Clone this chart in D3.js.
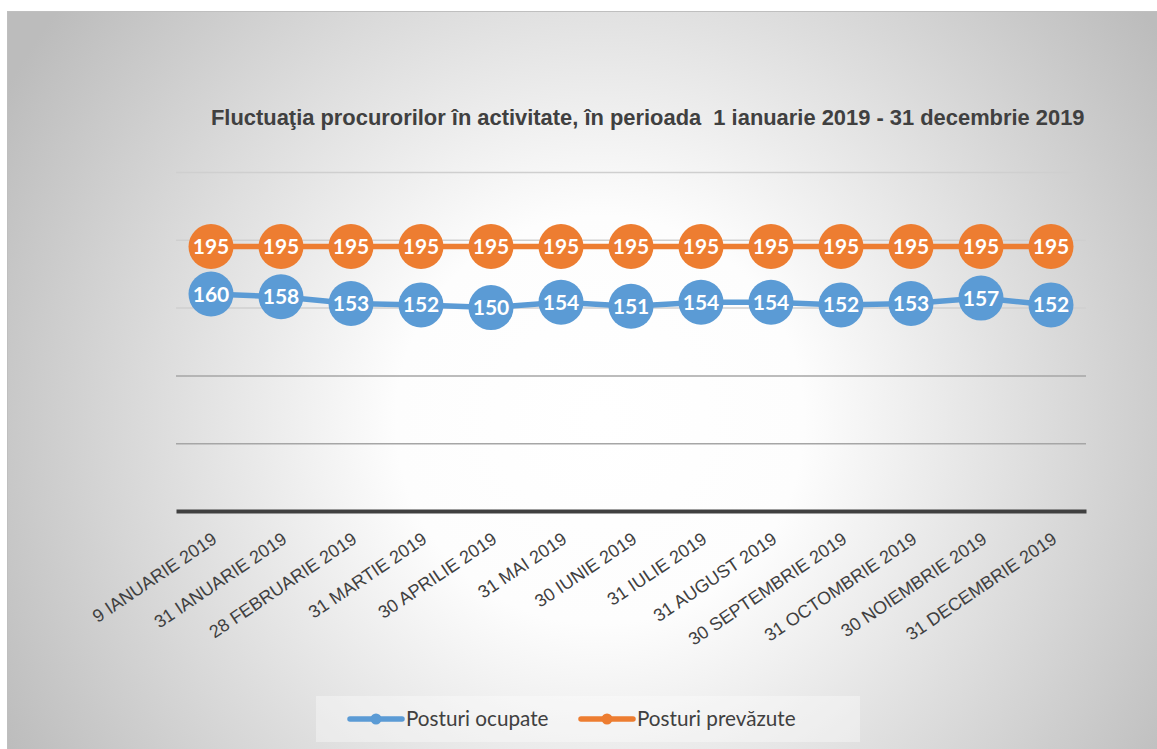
<!DOCTYPE html>
<html><head><meta charset="utf-8">
<script src="https://cdn.jsdelivr.net/npm/d3@7"></script>
<style>
html,body{margin:0;padding:0;background:#fff;}
svg{display:block;}
</style></head>
<body>
<svg id="chart" width="1157" height="749"></svg>
<script>
const categories = ["9 IANUARIE 2019","31 IANUARIE 2019","28 FEBRUARIE 2019","31 MARTIE 2019","30 APRILIE 2019","31 MAI 2019","30 IUNIE 2019","31 IULIE 2019","31 AUGUST 2019","30 SEPTEMBRIE 2019","31 OCTOMBRIE 2019","30 NOIEMBRIE 2019","31 DECEMBRIE 2019"];
const posturiOcupate = [160,158,153,152,150,154,151,154,154,152,153,157,152];
const posturiPrevazute = [195,195,195,195,195,195,195,195,195,195,195,195,195];
const yTicks = [0,50,100,150,200,250];
const seriesNames = ["Posturi ocupate","Posturi prevăzute"];
const seriesColors = ["#5b9bd5","#ed7d31"];
const titleText = "Fluctuaţia procurorilor în activitate, în perioada  1 ianuarie 2019 - 31 decembrie 2019";

const svg = d3.select("#chart");
const defs = svg.append("defs");
const grad = defs.append("radialGradient").attr("id","bg")
  .attr("gradientUnits","userSpaceOnUse")
  .attr("cx",600).attr("cy",420).attr("r",680);
grad.append("stop").attr("offset","0").attr("stop-color","#ffffff");
grad.append("stop").attr("offset","0.3").attr("stop-color","#fdfdfd");
grad.append("stop").attr("offset","1").attr("stop-color","#bcbcbc");

svg.append("rect").attr("x",7.5).attr("y",11.5).attr("width",1160).attr("height",750)
  .attr("fill","url(#bg)").attr("stroke","#bfbfbf").attr("stroke-width",1);

const plot = {left:176, right:1086, top:172, bottom:511};
const x = d3.scaleBand().domain(categories).range([plot.left, plot.right]);
const y = d3.scaleLinear().domain([0,250]).range([plot.bottom, plot.top]);
const cx = d => x(d) + x.bandwidth()/2;

// gridlines
const yAxis = d3.axisLeft(y).tickValues(yTicks).tickSize(-(plot.right-plot.left)).tickFormat("");
const gy = svg.append("g").attr("transform",`translate(${plot.left},0)`).call(yAxis);
gy.select(".domain").remove();
gy.selectAll(".tick line").attr("stroke", d => d===0 ? "none" : (d>=150 ? "#cfcfcf" : "#a6a6a6")).attr("stroke-width",1.5);

// x axis
const xAxis = d3.axisBottom(x).tickSize(0).tickPadding(0);
const gx = svg.append("g").attr("transform",`translate(0,${plot.bottom})`).call(xAxis);
gx.select(".domain").attr("stroke","#404040").attr("stroke-width",4);
gx.selectAll(".tick text")
  .attr("font-family","'Liberation Sans', Arial, sans-serif")
  .attr("font-size",18).attr("fill","#404040")
  .attr("text-anchor","end").attr("dy",0).attr("y",0)
  .attr("transform","translate(7,31) rotate(-34)");

// title
svg.append("text").attr("x",211).attr("y",125)
  .attr("font-family","'Liberation Sans', Arial, sans-serif").attr("font-weight","bold")
  .attr("font-size",21.9).attr("fill","#404040").style("white-space","pre")
  .text(titleText);

const series = [posturiOcupate, posturiPrevazute];
const line = d3.line().x((d,i)=>cx(categories[i])).y(d=>y(d));
series.forEach((vals, si) => {
  const g = svg.append("g");
  g.append("path").datum(vals).attr("d",line).attr("fill","none")
    .attr("stroke",seriesColors[si]).attr("stroke-width",5.5).attr("stroke-linejoin","round");
  g.selectAll("circle").data(vals).join("circle")
    .attr("cx",(d,i)=>cx(categories[i])).attr("cy",d=>y(d)).attr("r",22.5)
    .attr("fill",seriesColors[si]);
  g.selectAll("text").data(vals).join("text")
    .attr("x",(d,i)=>cx(categories[i])).attr("y",d=>y(d)+7.5)
    .attr("text-anchor","middle").attr("font-family","Lato, 'Open Sans', sans-serif")
    .attr("font-weight","bold").attr("font-size",21).attr("fill","#fff").text(d=>d);
});

// legend
const lg = svg.append("g");
lg.append("rect").attr("x",316).attr("y",696).attr("width",544).attr("height",46).attr("fill","#ffffff").attr("opacity",0.35);
const legendX = [350, 581];
seriesNames.forEach((n,i)=>{
  const lx = legendX[i];
  lg.append("line").attr("x1",lx).attr("x2",lx+52).attr("y1",719).attr("y2",719)
    .attr("stroke",seriesColors[i]).attr("stroke-width",5.5).attr("stroke-linecap","round");
  lg.append("circle").attr("cx",lx+26).attr("cy",719).attr("r",5.5).attr("fill",seriesColors[i]);
  lg.append("text").attr("x",lx+56).attr("y",726).attr("font-family","Lato, 'Open Sans', sans-serif")
    .attr("font-size",20.7).attr("fill","#404040").text(n);
});
</script>
</body></html>
